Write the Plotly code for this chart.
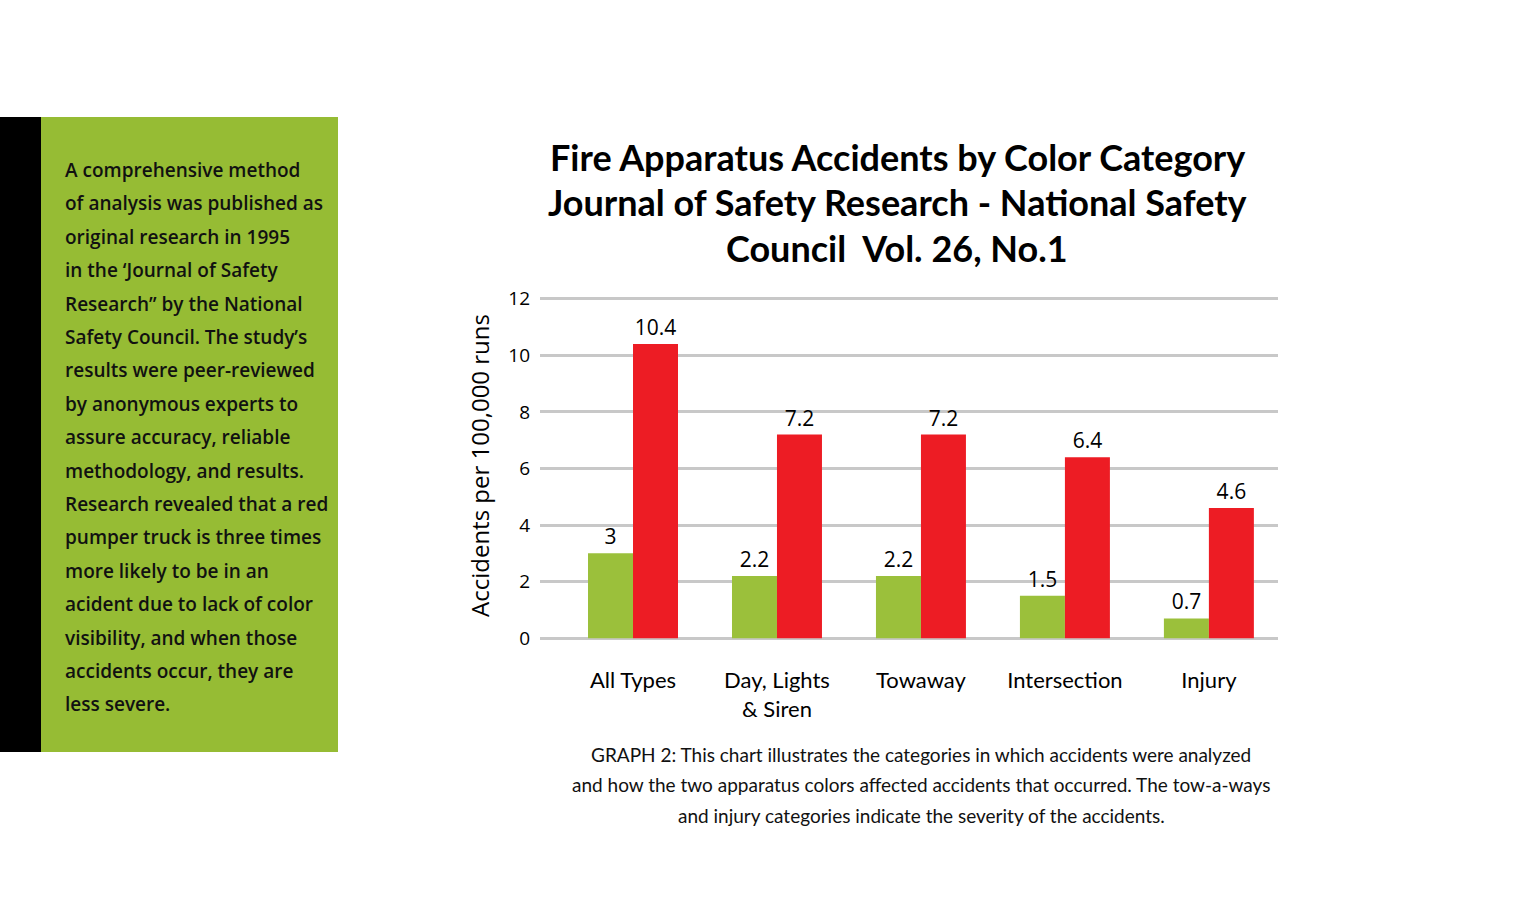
import plotly.graph_objects as go

categories = ["All Types", "Day, Lights<br>& Siren", "Towaway", "Intersection", "Injury"]
green_values = [3, 2.2, 2.2, 1.5, 0.7]
red_values = [10.4, 7.2, 7.2, 6.4, 4.6]
y_ticks = [0, 2, 4, 6, 8, 10, 12]

title_lines = ["Fire Apparatus Accidents by Color Category",
               "Journal of Safety Research - National Safety",
               "Council  Vol. 26, No.1"]
caption_lines = ["GRAPH 2: This chart illustrates the categories in which accidents were analyzed",
                 "and how the two apparatus colors affected accidents that occurred. The tow-a-ways",
                 "and injury categories indicate the severity of the accidents."]
side_lines = ["A comprehensive method", "of analysis was published as", "original research in 1995",
              "in the \u2018Journal of Safety", "Research\u201d by the National",
              "Safety Council. The study\u2019s", "results were peer-reviewed",
              "by anonymous experts to", "assure accuracy, reliable",
              "methodology, and results.", "Research revealed that a red",
              "pumper truck is three times", "more likely to be in an",
              "acident due to lack of color", "visibility, and when those",
              "accidents occur, they are", "less severe."]

W, H = 1538, 900
GREEN = "#9BC03B"
RED = "#ED1C24"
PANEL = "#96BC34"
FONT = "Lato"
WIDE = "Open Sans"

def px(x):
    return x / W

def py(y):
    return 1 - y / H

fig = go.Figure()
fig.add_trace(go.Bar(x=categories, y=green_values, marker_color=GREEN, marker_line_width=0,
                     text=[str(v) for v in green_values], textposition="outside",
                     textfont=dict(family=WIDE, size=21, color="#000", weight=500), cliponaxis=False))
fig.add_trace(go.Bar(x=categories, y=red_values, marker_color=RED, marker_line_width=0,
                     text=[str(v) for v in red_values], textposition="outside",
                     textfont=dict(family=WIDE, size=21, color="#000", weight=500), cliponaxis=False))

fig.update_layout(
    width=W, height=H, autosize=False,
    margin=dict(l=0, r=0, t=0, b=0, pad=0, autoexpand=False),
    paper_bgcolor="white", plot_bgcolor="white",
    barmode="group", bargap=0.375, bargroupgap=0,
    showlegend=False,
    font=dict(family=FONT, color="#111"),
    xaxis=dict(domain=[px(540), px(1278)], range=[-0.646, 4.48], showgrid=False,
               showline=False, zeroline=False, ticks="", automargin=False,
               tickfont=dict(family=FONT, size=22, color="#000"), ticklabelstandoff=24),
    yaxis=dict(domain=[py(641), py(296)], range=[-0.1, 12.1], tickvals=y_ticks,
               showgrid=True, gridcolor="#C8C8C8", gridwidth=3, zeroline=False,
               showline=False, ticks="", ticklabelstandoff=9, automargin=False,
               tickfont=dict(family=WIDE, size=19, color="#000", weight=500)),
)

fig.add_shape(type="rect", xref="paper", yref="paper", x0=px(0), x1=px(41), y0=py(752), y1=py(117),
              fillcolor="#000000", line_width=0, layer="below")
fig.add_shape(type="rect", xref="paper", yref="paper", x0=px(41), x1=px(338), y0=py(752), y1=py(117),
              fillcolor=PANEL, line_width=0, layer="below")

for i, line in enumerate(side_lines):
    fig.add_annotation(xref="paper", yref="paper", x=px(63), y=py(170 + i * 33.4), text=line,
                       showarrow=False, xanchor="left", yanchor="middle",
                       font=dict(family=WIDE, size=19, color="#111", weight=600))

for i, line in enumerate(title_lines):
    fig.add_annotation(xref="paper", yref="paper", x=px(897), y=py(157 + i * 45.5), text=line,
                       showarrow=False, xanchor="center", yanchor="middle",
                       font=dict(family=FONT, size=36, color="#000", weight="bold"))

for i, line in enumerate(caption_lines):
    fig.add_annotation(xref="paper", yref="paper", x=px(921), y=py(754 + i * 30.5), text=line,
                       showarrow=False, xanchor="center", yanchor="middle",
                       font=dict(family=FONT, size=19, color="#111"))

fig.add_annotation(xref="paper", yref="paper", x=px(479), y=py(466),
                   text="Accidents per 100,000 runs", textangle=-90, showarrow=False,
                   xanchor="center", yanchor="middle",
                   font=dict(family=WIDE, size=24, color="#000"))

fig.write_html("out.html", config={"displayModeBar": False},
               post_script="document.body.style.margin='0';document.body.style.overflow='hidden';")
